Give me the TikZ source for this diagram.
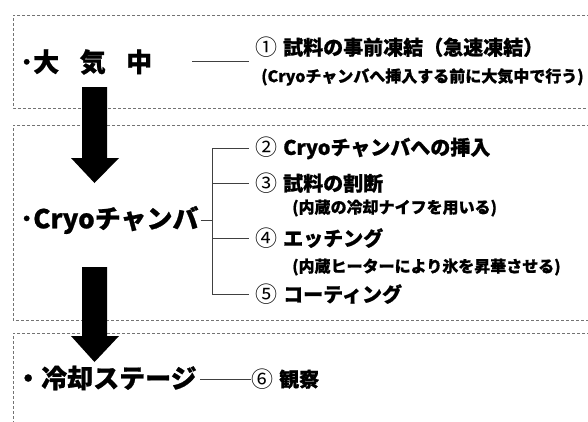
\documentclass[tikz,border=0pt]{standalone}
\usepackage{fontspec}
\newfontfamily\jp{Noto Sans CJK JP}[BoldFeatures={FakeBold=0.8}]
\begin{document}
\begin{tikzpicture}[x=1pt,y=-1pt]
\tikzset{
  box/.style={draw=black!55, line width=0.7pt, dash pattern=on 3pt off 2pt},
  big/.style={font=\jp\bfseries\fontsize{26}{28}\selectfont, anchor=west, inner sep=0pt},
  itm/.style={font=\jp\bfseries\fontsize{20}{22}\selectfont, anchor=west, inner ysep=0pt, inner xsep=6pt},
  note/.style={font=\jp\bfseries\fontsize{16}{18}\selectfont, anchor=west, inner sep=0pt},
  conn/.style={draw=black!75, line width=0.8pt},
  blockarrow/.style={fill=black, draw=none}
}
\newcommand\cnum[1]{\raisebox{-0.5pt}{\mdseries\fontsize{22}{22}\selectfont #1}\hspace{0.3em}}
\useasboundingbox (0,0) rectangle (588,421);
\clip (0,0) rectangle (588,421);
\fill[white] (0,0) rectangle (588,421);
% dashed boxes
\draw[box] (600,15) -- (13,15) -- (13,108) -- (600,108);
\draw[box] (600,125) -- (13,125) -- (13,320) -- (600,320);
\draw[box] (600,333) -- (13,333) -- (13,440);
% labels
\node[big] (daiki) at (20,62) {･大\hspace{20.5pt}気\hspace{20.5pt}中};
\node[big] (cryo) at (20,220) {･Cryoチャンバ};
\node[big] (stage) at (15,378) {・冷却ステージ};
% items
\node[itm] (i1) at (249,47) {\cnum{①}試料の事前凍結（急速凍結）};
\node[note] (n1) at (261,77) {(Cryoチャンバへ挿入する前に大気中で行う)};
\node[itm] (i2) at (249,148) {\cnum{②}Cryoチャンバへの挿入};
\node[itm] (i3) at (249,183) {\cnum{③}試料の割断};
\node[note] (n3) at (292,208) {(内蔵の冷却ナイフを用いる)};
\node[itm] (i4) at (249,238) {\cnum{④}エッチング};
\node[note] (n4) at (292,267) {(内蔵ヒーターにより氷を昇華させる)};
\node[itm] (i5) at (249,294) {\cnum{⑤}コーティング};
\node[itm, inner xsep=0pt] (i6) at (251,379) {\cnum{⑥}観察};
% connectors
\coordinate (j1) at (249,61);
\coordinate (bx) at (212,0);
\draw[conn] ([xshift=40pt]daiki.east |- j1) -- (j1);
\draw[conn] (i2.west) -- (i2.west -| bx) -- (i5.west -| bx) -- (i5.west);
\draw[conn] (i3.west -| bx) -- (i3.west);
\draw[conn] (i4.west -| bx) -- (i4.west);
\draw[conn] ([xshift=2pt]cryo.east) -- (cryo.east -| bx);
\draw[conn] ([xshift=3pt]stage.east |- i6.west) -- (i6.west);
% block arrows
\fill[blockarrow] (82,87) -- (107,87) -- (107,158) -- (119,158) -- (94.5,183) -- (71,158) -- (82,158) -- cycle;
\fill[blockarrow] (82,267) -- (107,267) -- (107,336) -- (119,336) -- (94.5,362) -- (71,336) -- (82,336) -- cycle;
\end{tikzpicture}
\end{document}
